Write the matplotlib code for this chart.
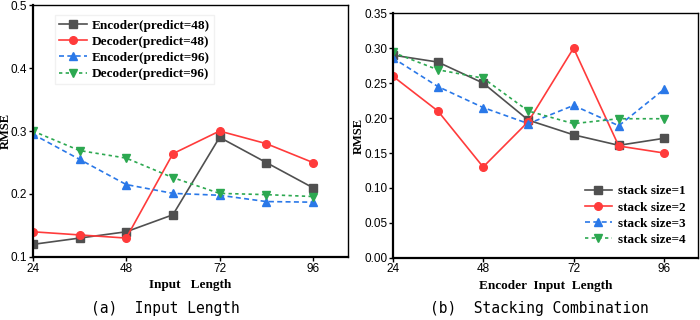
import matplotlib
matplotlib.use("Agg")
import matplotlib.pyplot as plt

x = [24, 36, 48, 60, 72, 84, 96]

# (a) input length
enc48 = [0.120, 0.130, 0.140, 0.167, 0.290, 0.250, 0.210]
dec48 = [0.140, 0.135, 0.130, 0.264, 0.300, 0.280, 0.250]
enc96 = [0.295, 0.255, 0.215, 0.201, 0.198, 0.188, 0.187]
dec96 = [0.300, 0.269, 0.257, 0.226, 0.201, 0.199, 0.196]

# (b) stacking combination
ss1 = [0.290, 0.280, 0.250, 0.197, 0.176, 0.161, 0.171]
ss2 = [0.260, 0.210, 0.130, 0.195, 0.300, 0.160, 0.150]
ss3 = [0.286, 0.245, 0.215, 0.192, 0.218, 0.189, 0.241]
ss4 = [0.294, 0.269, 0.257, 0.210, 0.192, 0.199, 0.199]

labels_a = ['Encoder(predict=48)', 'Decoder(predict=48)',
            'Encoder(predict=96)', 'Decoder(predict=96)']
labels_b = ['stack size=1', 'stack size=2', 'stack size=3', 'stack size=4']

styles = [
    dict(color='#505050', marker='s', linestyle='-'),
    dict(color='#ff3b3b', marker='o', linestyle='-'),
    dict(color='#2a78e8', marker='^', linestyle=(0, (3, 2))),
    dict(color='#2ca850', marker='v', linestyle=(0, (2, 2))),
]

serif = ['Liberation Serif', 'DejaVu Serif']
sans = ['Liberation Sans', 'DejaVu Sans']

fig = plt.figure(figsize=(7, 3.2), dpi=100)
ax1 = fig.add_axes([0.047, 0.197, 0.450, 0.787])
ax2 = fig.add_axes([0.561, 0.194, 0.436, 0.765])


def draw(ax, series, labels):
    for ys, lab, st in zip(series, labels, styles):
        ax.plot(x, ys, label=lab, linewidth=1.2, markersize=5.5, **st)
    ax.set_xlim(24, 105)
    ax.set_xticks([24, 48, 72, 96])
    for s in ax.spines.values():
        s.set_linewidth(1.0)
    ax.spines['left'].set_linewidth(1.6)
    ax.spines['bottom'].set_linewidth(1.6)
    ax.tick_params(direction='out', length=3, width=1, labelsize=8.5, pad=1)
    for t in ax.get_xticklabels() + ax.get_yticklabels():
        t.set_family(sans)
    ax.set_ylabel('RMSE', family=serif, fontweight='bold', fontsize=9)


draw(ax1, [enc48, dec48, enc96, dec96], labels_a)
ax1.set_ylim(0.1, 0.5)
ax1.set_yticks([0.1, 0.2, 0.3, 0.4, 0.5])
ax1.set_yticklabels(['0.1', '0.2', '0.3', '0.4', '0.5'], family=sans)
ax1.yaxis.set_label_coords(-0.066, 0.5)
ax1.set_xlabel('Input   Length', family=serif, fontweight='bold', fontsize=9.5, labelpad=3)
ax1.legend(loc='upper left', bbox_to_anchor=(0.05, 0.985), frameon=True,
           fancybox=False, edgecolor='#eeeeee', handlelength=2.1,
           prop={'family': serif, 'weight': 'bold', 'size': 9.5},
           labelspacing=0.3, borderpad=0.3, handletextpad=0.4)

draw(ax2, [ss1, ss2, ss3, ss4], labels_b)
ax2.set_ylim(0, 0.35)
ax2.set_yticks([0, 0.05, 0.1, 0.15, 0.2, 0.25, 0.3, 0.35])
ax2.set_yticklabels(['%.2f' % v for v in ax2.get_yticks()], family=sans)
ax2.yaxis.set_label_coords(-0.09, 0.5)
ax2.set_xlabel('Encoder  Input  Length', family=serif, fontweight='bold', fontsize=9.5, labelpad=3)
ax2.legend(loc='lower left', bbox_to_anchor=(0.59, 0.0), frameon=False,
           handlelength=2.1,
           prop={'family': serif, 'weight': 'bold', 'size': 9.5},
           labelspacing=0.3, handletextpad=0.4)

fig.text(0.236, 0.037, '(a)  Input Length', ha='center', va='center',
         family=['DejaVu Sans Mono'], fontsize=10.5)
fig.text(0.771, 0.037, '(b)  Stacking Combination', ha='center', va='center',
         family=['DejaVu Sans Mono'], fontsize=10.5)

fig.savefig('out.png', dpi=100)
